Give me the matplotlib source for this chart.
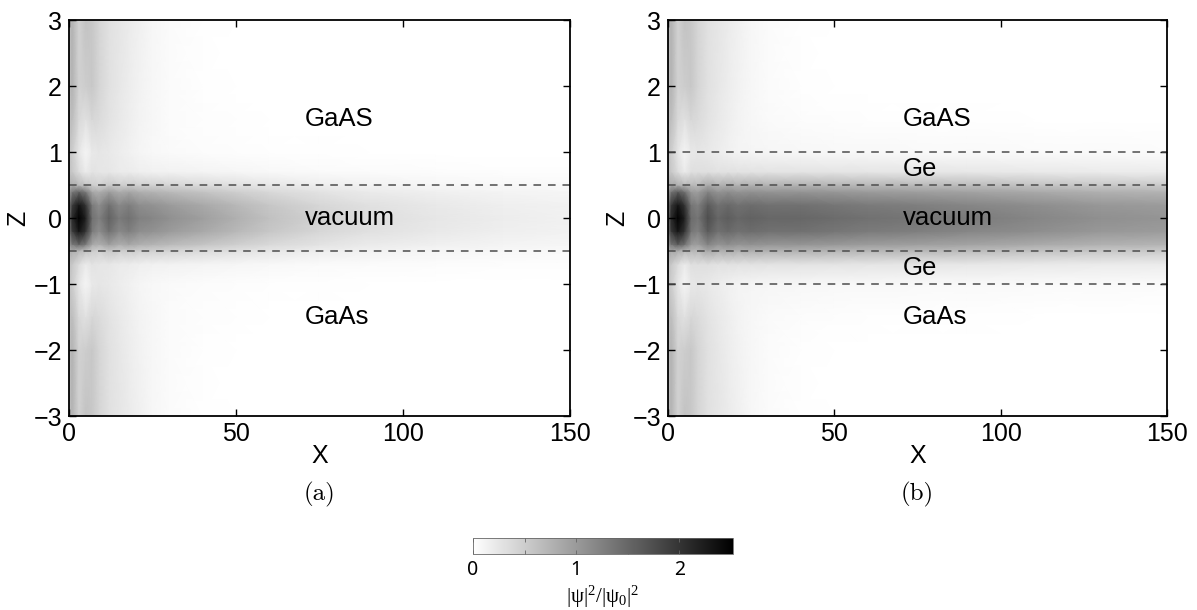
import numpy as np
import matplotlib
matplotlib.use("Agg")
from matplotlib import pyplot as plt

plt.rcParams['font.family'] = ['Liberation Sans', 'DejaVu Sans']
plt.rcParams['mathtext.fontset'] = 'custom'
plt.rcParams['mathtext.rm'] = 'Liberation Serif'
plt.rcParams['mathtext.it'] = 'Liberation Serif:italic'

# sample points along the guide (x) and across it (|z|)
xs = [0, 1, 3, 5, 7, 9, 12, 15, 18, 21, 25, 30, 40, 50, 60, 75, 90, 110, 130, 150]
zs = [0, 0.2, 0.4, 0.5, 0.7, 1.0, 1.5, 2.0, 3.0]

# |psi|^2/|psi0|^2, one row per |z| level -- (a) vacuum slot in GaAs
psi_a = [
    [1.4, 2.1, 2.5, 2.2, 1.4, 1.25, 1.55, 1.3, 1.4, 1.25, 1.2, 1.1, 0.95, 0.78, 0.62, 0.45, 0.33, 0.24, 0.18, 0.14],
    [1.3, 1.9, 2.3, 2.0, 1.3, 1.12, 1.4, 1.17, 1.26, 1.12, 1.08, 0.99, 0.85, 0.7, 0.56, 0.4, 0.3, 0.22, 0.16, 0.13],
    [0.95, 1.3, 1.5, 1.3, 0.85, 0.78, 0.96, 0.8, 0.87, 0.78, 0.74, 0.68, 0.59, 0.48, 0.38, 0.28, 0.2, 0.15, 0.11, 0.09],
    [0.75, 0.8, 0.7, 0.6, 0.5, 0.45, 0.55, 0.48, 0.5, 0.46, 0.45, 0.42, 0.36, 0.3, 0.24, 0.17, 0.13, 0.09, 0.07, 0.05],
    [0.6, 0.55, 0.35, 0.2, 0.28, 0.25, 0.24, 0.2, 0.19, 0.16, 0.14, 0.13, 0.11, 0.09, 0.07, 0.05, 0.04, 0.03, 0.02, 0.02],
    [0.6, 0.5, 0.25, 0.1, 0.22, 0.25, 0.22, 0.18, 0.14, 0.1, 0.07, 0.05, 0.03, 0.02, 0.01, 0.01, 0, 0, 0, 0],
    [0.6, 0.65, 0.38, 0.3, 0.4, 0.36, 0.28, 0.22, 0.17, 0.12, 0.08, 0.04, 0.02, 0.01, 0, 0, 0, 0, 0, 0],
    [0.6, 0.75, 0.45, 0.5, 0.55, 0.42, 0.3, 0.24, 0.18, 0.13, 0.08, 0.04, 0.015, 0, 0, 0, 0, 0, 0, 0],
    [0.6, 0.75, 0.45, 0.6, 0.55, 0.42, 0.3, 0.25, 0.2, 0.15, 0.08, 0.04, 0.015, 0, 0, 0, 0, 0, 0, 0],
]

# (b) vacuum slot with Ge cladding
psi_b = [
    [1.4, 2.1, 2.5, 2.2, 1.45, 1.35, 1.75, 1.5, 1.6, 1.5, 1.55, 1.5, 1.5, 1.45, 1.4, 1.35, 1.3, 1.2, 1.1, 1.05],
    [1.3, 1.95, 2.3, 2.0, 1.35, 1.25, 1.62, 1.4, 1.48, 1.4, 1.44, 1.4, 1.4, 1.35, 1.3, 1.26, 1.2, 1.12, 1.02, 0.98],
    [1.0, 1.35, 1.6, 1.4, 1.0, 0.95, 1.22, 1.05, 1.12, 1.05, 1.08, 1.05, 1.05, 1.02, 0.98, 0.95, 0.91, 0.84, 0.77, 0.74],
    [0.8, 0.85, 0.8, 0.7, 0.7, 0.68, 0.85, 0.75, 0.8, 0.75, 0.78, 0.75, 0.75, 0.72, 0.7, 0.68, 0.65, 0.6, 0.55, 0.52],
    [0.6, 0.55, 0.35, 0.2, 0.32, 0.32, 0.32, 0.29, 0.3, 0.29, 0.29, 0.28, 0.28, 0.27, 0.26, 0.25, 0.24, 0.22, 0.2, 0.19],
    [0.6, 0.5, 0.25, 0.1, 0.22, 0.25, 0.22, 0.18, 0.14, 0.11, 0.1, 0.09, 0.08, 0.07, 0.07, 0.06, 0.06, 0.05, 0.05, 0.04],
    [0.6, 0.65, 0.38, 0.3, 0.4, 0.36, 0.28, 0.22, 0.17, 0.12, 0.08, 0.05, 0.03, 0.02, 0.01, 0.01, 0.01, 0, 0, 0],
    [0.6, 0.75, 0.45, 0.5, 0.55, 0.42, 0.3, 0.24, 0.18, 0.13, 0.08, 0.04, 0.015, 0, 0, 0, 0, 0, 0, 0],
    [0.6, 0.75, 0.45, 0.6, 0.55, 0.42, 0.3, 0.25, 0.2, 0.15, 0.08, 0.04, 0.015, 0, 0, 0, 0, 0, 0, 0],
]

interfaces_a = [0.5, -0.5]
interfaces_b = [1.0, 0.5, -0.5, -1.0]
labels_a = [("GaAS", 1.5), ("vacuum", 0.0), ("GaAs", -1.5)]
labels_b = [("GaAS", 1.5), ("Ge", 0.75), ("vacuum", 0.0), ("Ge", -0.75), ("GaAs", -1.5)]
vmax = 2.52


def mirror(tab):
    # field is symmetric in z, rows given for z >= 0
    tab = np.array(tab)
    return np.vstack([tab[::-1], tab[1:]])


z_full = np.concatenate([-np.array(zs[::-1]), np.array(zs[1:])])

fig = plt.figure(figsize=(11.97, 6.10), dpi=100)
ax1 = fig.add_axes([0.0576, 0.318, 0.4186, 0.649])
ax2 = fig.add_axes([0.558, 0.318, 0.417, 0.649])

for ax, tab, lines, labels, tag in [(ax1, psi_a, interfaces_a, labels_a, '(a)'),
                                    (ax2, psi_b, interfaces_b, labels_b, '(b)')]:
    pm = ax.pcolormesh(xs, z_full, mirror(tab), shading='gouraud',
                       cmap='gray_r', vmin=0, vmax=vmax, rasterized=True)
    for zl in lines:
        ax.axhline(zl, color='0.3', lw=1.1, ls=(0, (5, 4.5)))
    for s, zt in labels:
        ax.text(70.5, zt, s, fontsize=18.5, ha='left', va='center')
    ax.set_xlim(0, 150)
    ax.set_ylim(-3, 3)
    ax.set_xticks([0, 50, 100, 150])
    ax.set_yticks([-3, -2, -1, 0, 1, 2, 3])
    ax.tick_params(direction='in', top=True, right=True, length=5,
                   width=1, labelsize=18)
    ax.tick_params(axis='x', pad=4)
    ax.tick_params(axis='y', pad=5)
    for sp in ax.spines.values():
        sp.set_linewidth(1.3)
    ax.set_xlabel('X', fontsize=18, labelpad=-1)
    ax.set_ylabel('Z', fontsize=18, labelpad=2)
    ax.text(0.5, -0.197, tag, transform=ax.transAxes, family='cmr10',
            ha='center', va='center', fontsize=18)

cax = fig.add_axes([473 / 1197, 56 / 610, 260 / 1197, 16 / 610])
cb = fig.colorbar(pm, cax=cax, orientation='horizontal')
cb.set_ticks([0, 0.5, 1, 1.5, 2])
cb.set_ticklabels(['0', '', '1', '', '2'])
cb.ax.tick_params(direction='in', top=True, length=3, width=0.6,
                  color='0.4', labelsize=14, pad=4)
for lab in cb.ax.get_xticklabels():
    lab.set_family('Noto Sans')
cb.outline.set_linewidth(0.6)
cb.outline.set_edgecolor('0.4')
cb.set_label(r'$|\mathrm{\psi}|^2/|\mathrm{\psi}_0|^2$', fontsize=15, labelpad=3)

fig.savefig('out.png', dpi=100)
